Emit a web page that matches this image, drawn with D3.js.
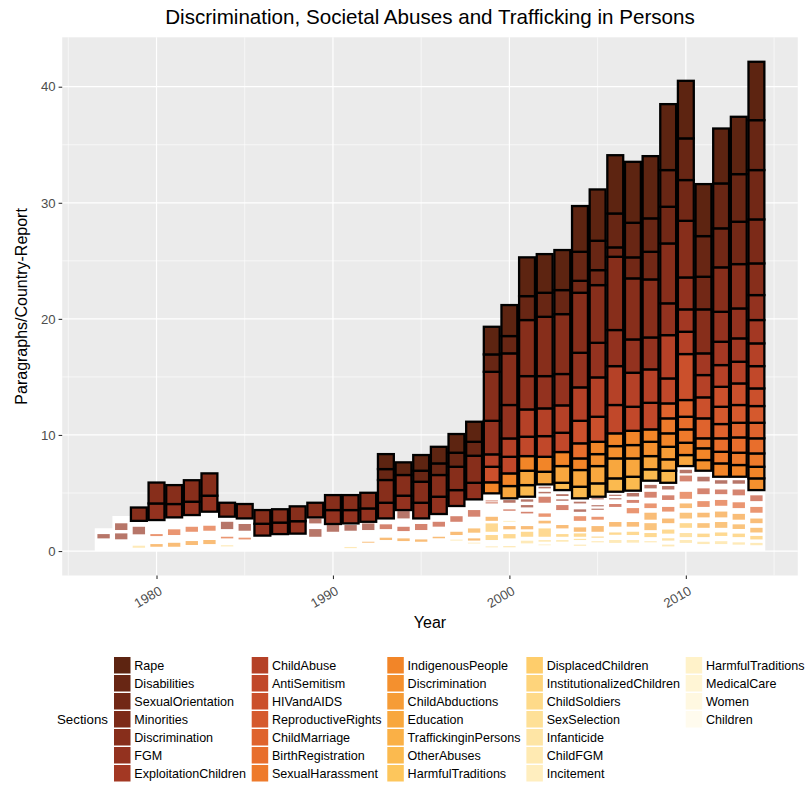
<!DOCTYPE html>
<html>
<head>
<meta charset="utf-8">
<script src="https://cdn.jsdelivr.net/npm/d3@7"></script>
<style>
  body { margin: 0; background: #ffffff; }
  text { font-family: "Liberation Sans", Arial, Helvetica, sans-serif; }
</style>
</head>
<body>
<svg id="chart" width="806" height="786"></svg>
<script>
// ---- data -------------------------------------------------------------
const years = [1977,1978,1979,1980,1981,1982,1983,1984,1985,1986,
               1987,1988,1989,1990,1991,1992,1993,1994,1995,1996,
               1997,1998,1999,2000,2001,2002,2003,2004,2005,2006,
               2007,2008,2009,2010,2011,2012,2013,2014];

const sectionNames = [
  "Rape","Disabilities","SexualOrientation","Minorities","Discrimination","FGM","ExploitationChildren",
  "ChildAbuse","AntiSemitism","HIVandAIDS","ReproductiveRights","ChildMarriage","BirthRegistration","SexualHarassment",
  "IndigenousPeople","Discrimination","ChildAbductions","Education","TraffickinginPersons","OtherAbuses","HarmfulTraditions",
  "DisplacedChildren","InstitutionalizedChildren","ChildSoldiers","SexSelection","Infanticide","ChildFGM","Incitement",
  "HarmfulTraditions","MedicalCare","Women","Children"
];

const sectionColors = [
  "#5D2411","#682614","#722816","#7C2A18","#872E1B","#93321F","#A33823",
  "#B54127","#C1482A","#CB502C","#D5592D","#DF632D","#E86E2C","#EE7A2B",
  "#F28528","#F4902E","#F69C36","#F8A73E","#FAB046","#FBBA4F","#FDC65C",
  "#FECD6B","#FED47B","#FEDA89","#FEE097","#FEE5A5","#FFEAB2","#FFEEBF",
  "#FFF2C9","#FFF5D5","#FFF8E1","#FFFBEE"
];

// level at which the outlined sections start (top of the white base)
const baseLevel = [1.96,3.01,2.60,2.67,2.90,3.10,3.39,2.96,2.81,1.33,
                   1.46,1.50,2.90,2.33,2.38,2.52,2.81,3.53,2.81,3.19,
                   3.88,4.45,4.97,4.54,4.68,5.74,5.25,4.54,4.68,5.11,
                   5.20,6.06,5.88,7.32,6.92,6.40,6.40,5.25];

// paragraphs per country-report, outlined sections (1977 ... 2014)
const rape = [0,0,0,0,0,0,0,0,0,0, 0,0,0,0,0,0,1.29,1.09,1.35,1.43,
  1.61,1.73,2.38,2.67,3.34,3.33,3.45,3.94,4.42,5.02, 5.25,5.36,5.68,4.96,4.48,4.73,4.94,5.03];
const disabilities = [0,0,0,0,0,0,0,0,0,0, 0,0,0,0,0,0,0.94,0,0.95,1.00,
  1.21,1.20,1.50,1.49,2.06,2.07,2.07,2.50,2.53,2.92, 2.98,2.88,3.16,3.59,3.50,3.87,4.10,4.30];
const sexualOrientation = [0,0,0,0,0,0,0,0,0,0, 0,0,0,0,0,0,0,0,0,0,
  0,0,0,0,0,0,0,1.03,1.29,0.81, 1.81,2.38,3.16,3.51,2.81,3.36,3.65,4.25];
const minorities = [0,0,0,0,0,0,0,0,0,0, 0,0,0,0,0,0,0,0,0,0,
  0,0,0,0,0,0,0,0,0,0, 0,0,0,0,0,0,0,3.79];
const discrimination = [0,0,1.15,1.80,1.63,1.85,1.92,1.20,1.24,1.18, 1.15,1.28,1.26,1.29,1.29,1.35,1.96,1.78,1.81,1.87,
  2.01,2.33,4.22,4.45,4.83,5.11,5.16,5.17,4.97,6.31, 5.26,5.00,5.16,4.88,3.79,3.83,3.82,2.73];
const fgm = [0,0,0,1.43,1.15,1.15,1.38,0,0,1.02, 0.99,1.07,0,1.20,1.15,1.15,1.35,1.24,1.35,1.49,
  1.37,1.43,2.89,2.88,2.87,2.78,2.70,2.98,2.98,3.11, 2.87,2.75,2.74,2.75,0,2.58,2.58,2.15];
const exploitationChildren = [0,0,0,0,0,0,0,0,0,0, 0,0,0,0,0,0,0,0,0,0,
  0,0,0,0,0,0,0,0,0,0, 0,0,0,1.93,1.87,2.01,2.01,2.01];
const childAbuse = [0,0,0,0,0,0,0,0,0,0, 0,0,0,0,0,0,0,0,0,0,
  0,0,1.07,1.58,2.35,2.39,2.36,2.88,3.39,3.35, 2.93,2.88,3.73,1.92,1.92,1.87,1.87,1.96];
const antiSemitism = [0,0,0,0,0,0,0,0,0,0, 0,0,0,0,0,0,0,0,0,0,
  0,0,0,1.43,1.67,1.78,1.66,0,0,2.44, 2.07,2.29,2.15,0,0,0,0,1.92];
const hivAids = [0,0,0,0,0,0,0,0,0,0, 0,0,0,0,0,0,0,0,0,0,
  0,0,1.34,0,0,0,0,1.94,2.16,0, 0,0,0,3.96,1.81,1.72,1.86,1.52];
const reproductiveRights = [0,0,0,0,0,0,0,0,0,0, 0,0,0,0,0,0,0,0,0,0,
  0,0,0,0,0,0,0,0,0,0, 0,0,0,0,0,1.49,1.53,1.44];
const childMarriage = [0,0,0,0,0,0,0,0,0,0, 0,0,0,0,0,0,0,0,0,0,
  0,0,0,0,0,0,0,0,0,0, 0,0,1.29,1.44,1.72,1.23,1.26,1.34];
const birthRegistration = [0,0,0,0,0,0,0,0,0,0, 0,0,0,0,0,0,0,0,0,0,
  0,0,0,0,0,0,0,1.30,0,0, 0,0,0,1.09,0,1.16,1.32,1.30];
const sexualHarassment = [0,0,0,0,0,0,0,0,0,0, 0,0,0,0,0,0,0,0,0,0,
  0,0,0,0,0,0,0,0,0,0, 0,0,1.29,1.15,0.86,1.00,1.06,1.15];
const indigenousPeople = [0,0,0,0,0,0,0,0,0,0, 0,0,0,0,0,0,0,0,0,0,
  0,0,0.95,1.09,1.26,1.29,1.21,1.00,1.06,1.10, 1.23,1.07,1.16,1.06,1.01,1.15,1.01,1.00];
const discriminationOther = [0,0,0,0,0,0,0,0,0,0, 0,0,0,0,0,0,0,0,0,0,
  0,0,0,0,0,0,0,0,1.03,1.06, 1.15,1.23,0,0,0.92,0,0,1.01];
const childAbductions = [0,0,0,0,0,0,0,0,0,0, 0,0,0,0,0,0,0,0,0,0,
  0,0,0,0,0,0,0,0,0,0, 0,0,1.08,0,0,0,0,0];
const education = [0,0,0,0,0,0,0,0,0,0, 0,0,0,0,0,0,0,0,0,0,
  0,0,0,1.06,1.24,1.09,1.44,1.44,1.49,1.72, 1.58,1.14,0.98,0.95,0,0,0,0];
const otherAbuses = [0,0,0,0,0,0,0,0,0,0, 0,0,0,0,0,0,0,0,0,0,
  0,0,0,0,1.00,0,0.63,1.00,1.15,1.15, 1.20,0.98,1.04,0,0,0,0,0];

// section index -> outlined series
const outlinedSeries = [
  [0, rape], [1, disabilities], [2, sexualOrientation], [3, minorities], [4, discrimination],
  [5, fgm], [6, exploitationChildren], [7, childAbuse], [8, antiSemitism], [9, hivAids],
  [10, reproductiveRights], [11, childMarriage], [12, birthRegistration], [13, sexualHarassment],
  [14, indigenousPeople], [15, discriminationOther], [16, childAbductions], [17, education],
  [19, otherAbuses]
];

// faint entries inside the white base: [year, section index, from, to]
const faintEntries = [
  [1977,5,1.09,1.46],
  [1978,5,1.01,1.52],[1978,5,1.81,2.39],
  [1979,24,0.28,0.46],[1979,5,1.44,2.09],
  [1980,16,0.37,0.60],[1980,11,1.29,1.46],
  [1981,16,0.37,0.71],[1981,11,1.38,1.87],
  [1982,16,0.52,0.86],[1982,11,1.66,2.09],
  [1983,16,0.60,0.95],[1983,11,1.75,2.18],
  [1984,24,0.40,0.50],[1984,11,1.09,1.23],[1984,5,1.89,2.52],
  [1985,11,1.00,1.15],[1985,5,1.75,2.33],
  [1989,5,1.23,1.89],[1989,5,2.38,2.81],
  [1990,5,1.66,2.24],
  [1991,24,0.25,0.35],[1991,5,1.75,2.24],
  [1992,16,0.72,0.80],[1992,5,1.81,2.38],
  [1993,16,0.95,1.15],[1993,8,1.89,2.30],
  [1994,16,0.86,1.09],[1994,8,1.72,2.09],[1994,5,2.81,3.44],
  [1995,16,0.80,1.00],[1995,8,1.81,2.33],
  [1996,16,1.10,1.23],[1996,8,2.10,2.52],
  [1997,24,0.90,0.98],[1997,16,1.38,1.66],[1997,8,2.52,3.00],
  [1998,24,0.65,0.72],[1998,16,0.90,1.09],[1998,17,1.58,1.95],[1998,8,2.96,3.53],
  [1999,24,0.32,0.40],[1999,20,0.95,1.38],[1999,20,1.66,2.38],[1999,16,2.60,2.95],[1999,8,4.10,4.20],[1999,8,4.28,4.36],
  [2000,24,0.32,0.43],[2000,20,1.09,1.46],[2000,16,1.87,2.15],[2000,26,2.50,2.60],[2000,8,3.47,3.59],[2000,5,4.16,4.39],
  [2001,24,0.66,0.89],[2001,20,1.23,1.66],[2001,16,1.87,2.15],[2001,8,3.24,3.38],[2001,5,3.76,3.96],[2001,5,4.25,4.45],
  [2002,24,0.50,0.56],[2002,24,0.80,0.95],[2002,20,1.23,1.95],[2002,16,2.38,2.61],[2002,11,2.95,3.24],[2002,8,4.16,4.68],[2002,5,4.97,5.10],[2002,5,5.40,5.54],
  [2003,24,0.80,0.95],[2003,20,1.23,1.46],[2003,16,1.95,2.24],[2003,8,3.53,3.96],[2003,5,4.33,4.45],[2003,5,4.74,4.90],
  [2004,24,0.45,0.55],[2004,22,0.95,1.05],[2004,20,1.23,1.52],[2004,16,1.66,2.04],[2004,11,2.60,3.00],[2004,5,3.38,3.59],[2004,5,4.10,4.25],
  [2005,24,0.75,0.85],[2005,20,1.15,1.25],[2005,16,1.66,2.15],[2005,11,2.70,2.95],[2005,5,3.55,3.65],[2005,5,3.85,3.95],[2005,5,4.45,4.55],
  [2006,24,0.70,0.95],[2006,20,1.40,1.60],[2006,16,2.10,2.50],[2006,8,3.80,4.05],[2006,5,4.45,4.55],[2006,5,4.75,4.85],
  [2007,24,0.72,0.95],[2007,20,1.38,1.66],[2007,16,2.10,2.50],[2007,11,3.25,3.70],[2007,8,4.15,4.40],[2007,5,4.70,5.00],
  [2008,24,0.75,0.85],[2008,20,1.20,1.55],[2008,17,1.80,2.40],[2008,16,2.70,3.30],[2008,11,3.70,4.10],[2008,8,4.60,5.10],[2008,5,5.40,5.70],
  [2009,24,0.40,0.55],[2009,22,0.90,1.10],[2009,20,1.50,1.85],[2009,16,2.40,2.80],[2009,11,3.40,3.80],[2009,8,4.40,4.80],[2009,5,5.30,5.60],
  [2010,24,0.70,0.95],[2010,22,1.20,1.55],[2010,20,2.00,2.40],[2010,17,2.80,3.30],[2010,16,3.70,4.10],[2010,11,4.50,5.10],[2010,8,6.00,6.50],[2010,5,6.70,7.00],
  [2011,24,0.60,0.80],[2011,20,1.20,1.50],[2011,17,2.00,2.40],[2011,16,2.90,3.30],[2011,11,3.80,4.30],[2011,8,4.90,5.40],[2011,5,6.00,6.40],
  [2012,24,0.60,0.85],[2012,20,1.30,1.60],[2012,17,2.00,2.50],[2012,16,2.90,3.40],[2012,11,3.90,4.40],[2012,8,4.90,5.30],[2012,5,5.80,6.10],
  [2013,24,0.55,0.75],[2013,20,1.20,1.50],[2013,17,1.90,2.30],[2013,16,2.70,3.20],[2013,11,3.70,4.20],[2013,8,4.80,5.30],[2013,5,5.80,6.10],
  [2014,24,0.50,0.70],[2014,20,1.00,1.30],[2014,17,1.60,2.00],[2014,16,2.40,2.80],[2014,11,3.30,3.80],[2014,8,4.30,4.80]
];

const yTicks = [0, 10, 20, 30, 40];
const xTicks = [1980, 1990, 2000, 2010];
const titleText = "Discrimination, Societal Abuses and Trafficking in Persons";

// ---- layout -------------------------------------------------------------
const svg = d3.select("#chart");
const panel = { left: 62.2, right: 797.8, top: 37.3, bottom: 575.5 };

// stack the outlined sections: lightest section at the bottom, Rape on top
const keys = outlinedSeries.map(d => d[0]).sort((a, b) => b - a);
const rows = years.map((yr, i) => {
  const r = { year: yr };
  outlinedSeries.forEach(([k, arr]) => { r[k] = arr[i]; });
  return r;
});
const stacked = d3.stack().keys(keys)(rows);
stacked.forEach(layer => layer.forEach((p, i) => { p[0] += baseLevel[i]; p[1] += baseLevel[i]; }));
const maxTotal = d3.max(stacked[stacked.length - 1], p => p[1]);

const barW = 0.9;
const xMin = d3.min(years) - barW / 2, xMax = d3.max(years) + barW / 2;
const xPad = (xMax - xMin) * 0.05;
const x = d3.scaleLinear().domain([xMin - xPad, xMax + xPad]).range([panel.left, panel.right]);
const yPad = maxTotal * 0.05;
const y = d3.scaleLinear().domain([-yPad, maxTotal + yPad]).range([panel.bottom, panel.top]);

// panel background + grid
svg.append("rect")
  .attr("x", panel.left).attr("y", panel.top)
  .attr("width", panel.right - panel.left).attr("height", panel.bottom - panel.top)
  .attr("fill", "#EBEBEB");

const grid = svg.append("g");
const xMinor = [1975, 1985, 1995, 2005, 2015];
const yMinor = [5, 15, 25, 35];
grid.selectAll(".xm").data(xMinor).join("line")
  .attr("x1", d => x(d)).attr("x2", d => x(d)).attr("y1", panel.top).attr("y2", panel.bottom)
  .attr("stroke", "#fff").attr("stroke-width", 0.6);
grid.selectAll(".ym").data(yMinor).join("line")
  .attr("y1", d => y(d)).attr("y2", d => y(d)).attr("x1", panel.left).attr("x2", panel.right)
  .attr("stroke", "#fff").attr("stroke-width", 0.6);
grid.selectAll(".xM").data(xTicks).join("line")
  .attr("x1", d => x(d)).attr("x2", d => x(d)).attr("y1", panel.top).attr("y2", panel.bottom)
  .attr("stroke", "#fff").attr("stroke-width", 1.2);
grid.selectAll(".yM").data(yTicks).join("line")
  .attr("y1", d => y(d)).attr("y2", d => y(d)).attr("x1", panel.left).attr("x2", panel.right)
  .attr("stroke", "#fff").attr("stroke-width", 1.2);

// white base under the outlined sections, stepped per year
const basePts = [{ t: years[0] - 0.5, v: baseLevel[0] }]
  .concat(years.map((yr, i) => ({ t: yr, v: baseLevel[i] })))
  .concat([{ t: years[years.length - 1] + 0.5, v: baseLevel[baseLevel.length - 1] }]);
svg.append("path")
  .datum(basePts)
  .attr("d", d3.area().curve(d3.curveStep).x(d => x(d.t)).y0(y(0)).y1(d => y(d.v)))
  .attr("fill", "#ffffff");

// faint entries
const faintW = (x(1) - x(0)) * 0.7;
svg.append("g").selectAll("rect").data(faintEntries).join("rect")
  .attr("x", d => x(d[0]) - faintW / 2)
  .attr("width", faintW)
  .attr("y", d => y(d[3]))
  .attr("height", d => y(d[2]) - y(d[3]))
  .attr("fill", d => sectionColors[d[1]])
  .attr("fill-opacity", 0.67);

// outlined stacked sections
const bw = (x(1) - x(0)) * barW;
const segs = [];
stacked.forEach(layer => layer.forEach(p => {
  if (p[1] - p[0] > 0) segs.push({ k: layer.key, year: p.data.year, y0: p[0], y1: p[1] });
}));
svg.append("g").selectAll("rect").data(segs).join("rect")
  .attr("x", d => x(d.year) - bw / 2)
  .attr("width", bw)
  .attr("y", d => y(d.y1))
  .attr("height", d => y(d.y0) - y(d.y1))
  .attr("fill", d => sectionColors[+d.k])
  .attr("stroke", "#000")
  .attr("stroke-width", 2.3);

// axes
const axisFont = 13.2;
const yAxis = svg.append("g").attr("transform", `translate(${panel.left},0)`)
  .call(d3.axisLeft(y).tickValues(yTicks).tickSize(3.6).tickPadding(3));
yAxis.select(".domain").remove();
yAxis.selectAll("line").attr("stroke", "#333").attr("stroke-width", 1.1);
yAxis.selectAll("text").attr("fill", "#4D4D4D").style("font-size", axisFont + "px");

const xAxis = svg.append("g").attr("transform", `translate(0,${panel.bottom})`)
  .call(d3.axisBottom(x).tickValues(xTicks).tickFormat(d3.format("d")).tickSize(3.6).tickPadding(3));
xAxis.select(".domain").remove();
xAxis.selectAll("line").attr("stroke", "#333").attr("stroke-width", 1.1);
xAxis.selectAll("text")
  .attr("fill", "#4D4D4D").style("font-size", axisFont + "px")
  .attr("text-anchor", "end")
  .attr("y", 0).attr("dy", 0)
  .attr("transform", "translate(6,18) rotate(-30)");

// titles
svg.append("text").attr("x", (panel.left + panel.right) / 2).attr("y", 24)
  .attr("text-anchor", "middle").style("font-size", "20.6px").attr("fill", "#000")
  .text(titleText);
svg.append("text").attr("x", (panel.left + panel.right) / 2).attr("y", 628)
  .attr("text-anchor", "middle").style("font-size", "16px").attr("fill", "#000")
  .text("Year");
svg.append("text")
  .attr("transform", `translate(27,${(panel.top + panel.bottom) / 2}) rotate(-90)`)
  .attr("text-anchor", "middle").style("font-size", "16px").attr("fill", "#000")
  .text("Paragraphs/Country-Report");

// legend
const legendFont = 12.55, keySize = 16.5, rowH = 18, rowsPerCol = 7;
const legend = svg.append("g");
legend.append("text").attr("x", 57).attr("y", 656 + 3 * rowH + rowH / 2)
  .attr("dy", "0.35em").style("font-size", "13.3px").attr("fill", "#000").text("Sections");
let colX = 114;
for (let c = 0; c * rowsPerCol < sectionNames.length; c++) {
  const items = sectionNames.slice(c * rowsPerCol, (c + 1) * rowsPerCol);
  let maxW = 0;
  items.forEach((name, r) => {
    const idx = c * rowsPerCol + r;
    const ry = 657 + r * rowH;
    legend.append("rect").attr("x", colX).attr("y", ry)
      .attr("width", keySize).attr("height", keySize).attr("fill", sectionColors[idx]);
    const t = legend.append("text").attr("x", colX + 20.3).attr("y", ry + keySize / 2)
      .attr("dy", "0.35em").style("font-size", legendFont + "px").attr("fill", "#000").text(name);
    maxW = Math.max(maxW, t.node().getComputedTextLength());
  });
  colX = colX + 20.3 + maxW + 5.8;
}
</script>
</body>
</html>
